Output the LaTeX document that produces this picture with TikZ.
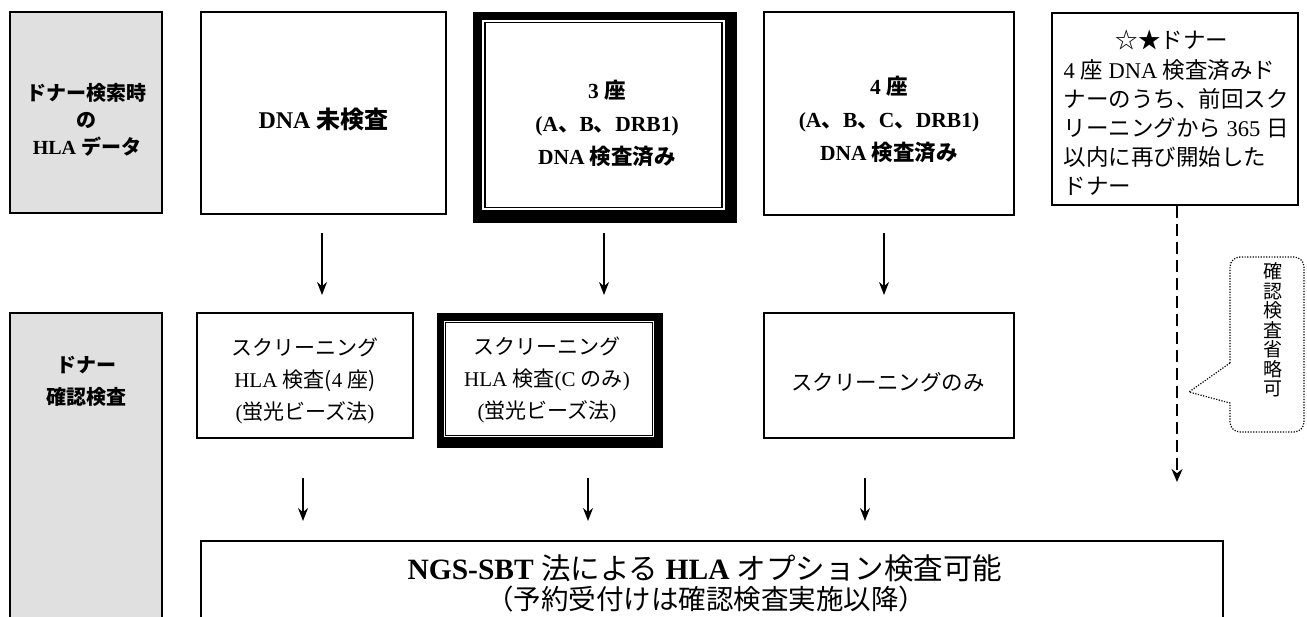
\documentclass[tikz,border=0pt]{standalone}
\usepackage{fontspec}
\setmainfont{Liberation Serif}
\newfontfamily\cjk{Noto Sans CJK JP}
\usetikzlibrary{arrows.meta}
\definecolor{grayfill}{RGB}{224,224,224}
\newcommand\J[1]{{\cjk #1}}
\newcommand\tc{\J{、}}
\newcommand\fs[2]{\fontsize{#1}{#2}\selectfont}
\begin{document}
\begin{tikzpicture}[x=1pt,y=-1pt,
  box/.style={draw=black,line width=1.8pt,fill=white,inner sep=0pt},
  graybox/.style={draw=black,line width=1.6pt,fill=grayfill,inner sep=0pt},
  txt/.style={inner sep=0pt,align=center},
  arr/.style={line width=1.3pt,-{Stealth[length=13pt,width=10pt]}},
  dasharr/.style={line width=2.2pt,dash pattern=on 12pt off 6pt,-{Stealth[length=13pt,width=11pt]}},
  callout/.style={line width=1.2pt,dash pattern=on 1.2pt off 1.5pt}]
\useasboundingbox (0,0) rectangle (1307,617);
\clip (0,0) rectangle (1307,617);

% gray side boxes
\node[graybox,minimum width=152pt,minimum height=201pt] (g1) at (86,112.5) {};
\node[txt,font=\fs{20}{27}\bfseries] (g1t) at (87,120) {\J{ドナー検索時}\\\J{の}\\HLA \J{データ}};
\node[graybox,minimum width=152pt,minimum height=347pt] (g2) at (86,486.5) {};
\node[txt,font=\fs{20}{32}\bfseries] (g2t) at (86,381) {\J{ドナー}\\\J{確認検査}};

% row 1
\node[box,minimum width=245pt,minimum height=202pt] (bA) at (323.5,113) {};
\node[txt,font=\fs{24}{33}\bfseries] (tA) at (323.5,119) {DNA \J{未検査}};

\node[fill=black,inner sep=0pt,minimum width=264pt,minimum height=211pt] (bB) at (605,117.5) {};
\fill[white] (482,20) rectangle (725,210);
\draw[line width=1.2pt] (485,22.5) rectangle (722,207.5);
\node[txt,font=\fs{21.5}{33}\bfseries] (tB) at (607,123.5) {3 \J{座}\\(A\tc B\tc DRB1)\\DNA \J{検査済み}};

\node[box,minimum width=250pt,minimum height=203pt] (bC) at (889,113.5) {};
\node[txt,font=\fs{21.5}{33}\bfseries] (tC) at (889,119) {4 \J{座}\\(A\tc B\tc C\tc DRB1)\\DNA \J{検査済み}};

\node[box,minimum width=246pt,minimum height=192pt] (bD) at (1175,109) {};
\node[txt,font=\fs{22.5}{29}] (tD1) at (1172,40) {\J{☆★ドナー}};
\node[txt,align=left,font=\fs{22.5}{29}] (tD2) at (1176,128) {4 \J{座} DNA \J{検査済みド}\\\J{ナーのうち、前回スク}\\\J{リーニングから} 365 \J{日}\\\J{以内に再び開始した}\\\J{ドナー}};

% row 2
\node[box,minimum width=216pt,minimum height=125pt] (bE) at (305,375.5) {};
\node[txt,font=\fs{21}{32}] (tE) at (305,381) {\J{スクリーニング}\\HLA \J{検査(}4 \J{座)}\\(\J{蛍光ビーズ法})};

\node[fill=black,inner sep=0pt,minimum width=226pt,minimum height=135pt] (bF) at (550,380.5) {};
\fill[white] (444,321) rectangle (654,437);
\draw[line width=1.2pt] (445.7,322.5) rectangle (652.5,435.5);
\node[txt,font=\fs{21}{32}] (tF) at (547,380) {\J{スクリーニング}\\HLA \J{検査}(C \J{のみ})\\(\J{蛍光ビーズ法})};

\node[box,minimum width=250pt,minimum height=125pt] (bG) at (889,375.5) {};
\node[txt,font=\fs{21.5}{32}] (tG) at (888,382) {\J{スクリーニングのみ}};

% bottom box
\node[box,minimum width=1022pt,minimum height=118pt] (bH) at (712,600) {};
\node[txt,font=\fs{29.5}{30}] (tH1) at (705,568) {\textbf{NGS-SBT} \J{法による} \textbf{HLA} \J{オプション検査可能}};
\node[txt,font=\fs{27.5}{30}] (tH2) at (706,599) {\J{（予約受付けは確認検査実施以降）}};

% arrows
\coordinate (a1s) at (322,233); \coordinate (a1e) at (322,295);
\coordinate (a2s) at (604,233); \coordinate (a2e) at (604,295);
\coordinate (a3s) at (884,233); \coordinate (a3e) at (884,295);
\coordinate (b1s) at (303,478); \coordinate (b1e) at (303,521);
\coordinate (b2s) at (588,478); \coordinate (b2e) at (588,521);
\coordinate (b3s) at (865,478); \coordinate (b3e) at (865,521);
\draw[arr] (a1s) -- (a1e);
\draw[arr] (a2s) -- (a2e);
\draw[arr] (a3s) -- (a3e);
\draw[arr] (b1s) -- (b1e);
\draw[arr] (b2s) -- (b2e);
\draw[arr] (b3s) -- (b3e);

% dashed arrow from the star donor box
\coordinate (dE) at (1177,482);
\draw[dasharr] (bD.south -| dE) -- (dE);

% callout
\draw[callout] (1230,363) [rounded corners=10pt] -- (1230,257) -- (1304,257) -- (1304,432) -- (1230,432) [sharp corners] -- (1230,403) -- (1189,392) -- cycle;
\node[txt,font=\fs{19}{19.5}\cjk] (cT) at (1273,330) {確\\認\\検\\査\\省\\略\\可};
\end{tikzpicture}
\end{document}
